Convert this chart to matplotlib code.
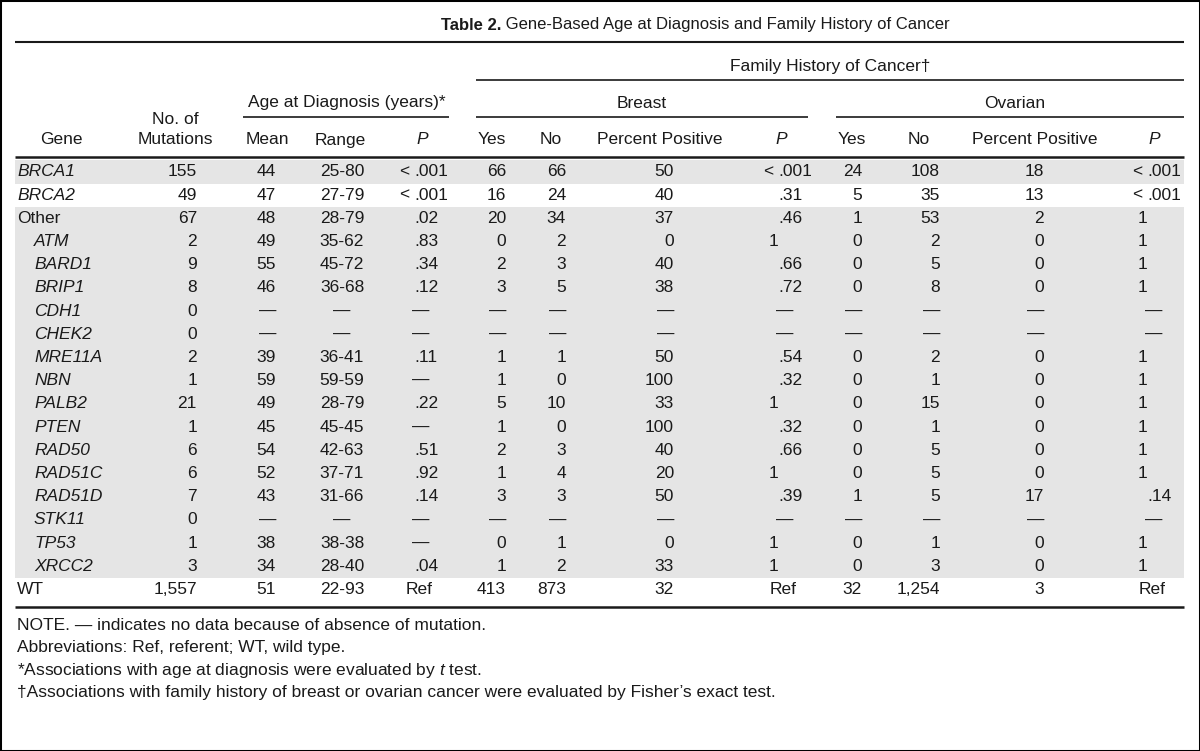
import matplotlib
matplotlib.use('Agg')
import matplotlib.pyplot as plt

# table values
genes = ['BRCA1', 'BRCA2', 'Other', 'ATM', 'BARD1', 'BRIP1', 'CDH1', 'CHEK2', 'MRE11A', 'NBN',
         'PALB2', 'PTEN', 'RAD50', 'RAD51C', 'RAD51D', 'STK11', 'TP53', 'XRCC2', 'WT']
mutations = ['155', '49', '67', '2', '9', '8', '0', '0', '2', '1', '21', '1', '6', '6', '7', '0', '1', '3', '1,557']
age_mean = ['44', '47', '48', '49', '55', '46', '—', '—', '39', '59', '49', '45', '54', '52', '43', '—', '38', '34', '51']
age_range = ['25-80', '27-79', '28-79', '35-62', '45-72', '36-68', '—', '—', '36-41', '59-59', '28-79', '45-45',
             '42-63', '37-71', '31-66', '—', '38-38', '28-40', '22-93']
age_p = ['< .001', '< .001', '.02', '.83', '.34', '.12', '—', '—', '.11', '—', '.22', '—', '.51', '.92', '.14',
         '—', '—', '.04', 'Ref']
breast_yes = ['66', '16', '20', '0', '2', '3', '—', '—', '1', '1', '5', '1', '2', '1', '3', '—', '0', '1', '413']
breast_no = ['66', '24', '34', '2', '3', '5', '—', '—', '1', '0', '10', '0', '3', '4', '3', '—', '1', '2', '873']
breast_pct = ['50', '40', '37', '0', '40', '38', '—', '—', '50', '100', '33', '100', '40', '20', '50', '—', '0', '33', '32']
breast_p = ['< .001', '.31', '.46', '1', '.66', '.72', '—', '—', '.54', '.32', '1', '.32', '.66', '1', '.39', '—',
            '1', '1', 'Ref']
ovarian_yes = ['24', '5', '1', '0', '0', '0', '—', '—', '0', '0', '0', '0', '0', '0', '1', '—', '0', '0', '32']
ovarian_no = ['108', '35', '53', '2', '5', '8', '—', '—', '2', '1', '15', '1', '5', '5', '5', '—', '1', '3', '1,254']
ovarian_pct = ['18', '13', '2', '0', '0', '0', '—', '—', '0', '0', '0', '0', '0', '0', '17', '—', '0', '0', '3']
ovarian_p = ['< .001', '< .001', '1', '1', '1', '1', '—', '—', '1', '1', '1', '1', '1', '1', '.14', '—', '1', '1', 'Ref']

title_bold = 'Table 2.'
title_rest = ' Gene-Based Age at Diagnosis and Family History of Cancer'
footnotes = ['NOTE. — indicates no data because of absence of mutation.',
             'Abbreviations: Ref, referent; WT, wild type.',
             '*Associations with age at diagnosis were evaluated by $\\it{t}$ test.',
             '†Associations with family history of breast or ovarian cancer were evaluated by Fisher’s exact test.']

plt.rcParams['font.family'] = ['Liberation Sans', 'DejaVu Sans']
plt.rcParams['mathtext.fontset'] = 'custom'
plt.rcParams['mathtext.rm'] = 'Liberation Sans'
plt.rcParams['mathtext.it'] = 'Liberation Sans:italic'

FS = 12.5
GREY = '#e5e5e5'
INK = '#1a1a1a'

fig = plt.figure(figsize=(12, 7.51), dpi=100)
ax = fig.add_axes([0, 0, 1, 1])
ax.set_xlim(0, 1200)
ax.set_ylim(751, 0)
ax.set_xticks([])
ax.set_yticks([])
for s in ax.spines.values():
    s.set_linewidth(2.2)
    s.set_color('black')

L, R = 15, 1184
row0, pitch = 172, 23.2
half = pitch / 2
rows = [row0 + i * pitch for i in range(len(genes))]


def txt(x, y, s, ha='center', **kw):
    ax.text(x, y, s, ha=ha, va='center', fontsize=kw.pop('fontsize', FS), color=INK, **kw)


def hline(y, x0=L, x1=R, lw=1.5):
    ax.plot([x0, x1], [y, y], color=INK, lw=lw, solid_capstyle='butt')


# shaded row bands
ax.axhspan(rows[0] - half, rows[0] + half, xmin=L / 1200, xmax=R / 1200, color=GREY, lw=0, zorder=0)
ax.axhspan(rows[2] - half, rows[-2] + half, xmin=L / 1200, xmax=R / 1200, color=GREY, lw=0, zorder=0)

# title
t = ax.text(441, 25, title_bold, ha='left', va='center', fontsize=12, fontweight='bold', color=INK)
fig.canvas.draw()
bb = t.get_window_extent()
x_end = ax.transData.inverted().transform((bb.x1, bb.y0))[0]
ax.text(x_end, 25, title_rest, ha='left', va='center', fontsize=12, color=INK)
hline(42)

# spanner headers
txt(830, 67, 'Family History of Cancer†')
hline(80, 476, R, lw=1.2)
txt(347, 103, 'Age at Diagnosis (years)*')
hline(117, 243, 449, lw=1.2)
txt(642, 103, 'Breast')
hline(117, 476, 808, lw=1.2)
txt(1015, 103, 'Ovarian')
hline(117, 836, R, lw=1.2)

# column headers
hy = 140
txt(61, hy, 'Gene')
txt(175, 120, 'No. of')
txt(175, hy, 'Mutations')
txt(267, hy, 'Mean')
txt(340, hy, 'Range')
txt(422, hy, 'P', fontstyle='italic')
txt(492, hy, 'Yes')
txt(551, hy, 'No')
txt(660, hy, 'Percent Positive')
txt(781, hy, 'P', fontstyle='italic')
txt(852, hy, 'Yes')
txt(919, hy, 'No')
txt(1035, hy, 'Percent Positive')
txt(1154, hy, 'P', fontstyle='italic')
hline(157, lw=1.8)

# gene names
for g, y in zip(genes, rows):
    if g in ('Other', 'WT'):
        txt(17, y, g, ha='left')
    elif g in ('BRCA1', 'BRCA2'):
        txt(17, y, g, ha='left', fontstyle='italic')
    else:
        txt(34, y, g, ha='left', fontstyle='italic')


def right_col(values, x_right):
    for v, y in zip(values, rows):
        txt(x_right, y, v, ha='right')


def p_col(values, x_dec):
    # P values are aligned on the decimal point
    for v, y in zip(values, rows):
        if v.startswith('<'):
            txt(x_dec - 5, y, '<', ha='right')
            txt(x_dec, y, v.split(' ')[1], ha='left')
        elif v.startswith('.'):
            txt(x_dec, y, v, ha='left')
        elif v == 'Ref':
            txt(x_dec - 8, y, v, ha='left')
        elif v == '—':
            txt(x_dec - 2, y, v, ha='left')
        else:
            txt(x_dec, y, v, ha='right')


right_col(mutations, 197)
right_col(age_mean, 276)
for v, y in zip(age_range, rows):
    txt(342, y, v)
p_col(age_p, 414)
right_col(breast_yes, 506)
right_col(breast_no, 566)
right_col(breast_pct, 674)
p_col(breast_p, 778)
right_col(ovarian_yes, 862)
right_col(ovarian_no, 940)
right_col(ovarian_pct, 1044)
p_col(ovarian_p, 1147)

hline(rows[-1] + 17, lw=1.8)

# footnotes
for i, note in enumerate(footnotes):
    txt(17, rows[-1] + 36 + i * 22.3, note, ha='left')

fig.savefig('out.png', dpi=100)
